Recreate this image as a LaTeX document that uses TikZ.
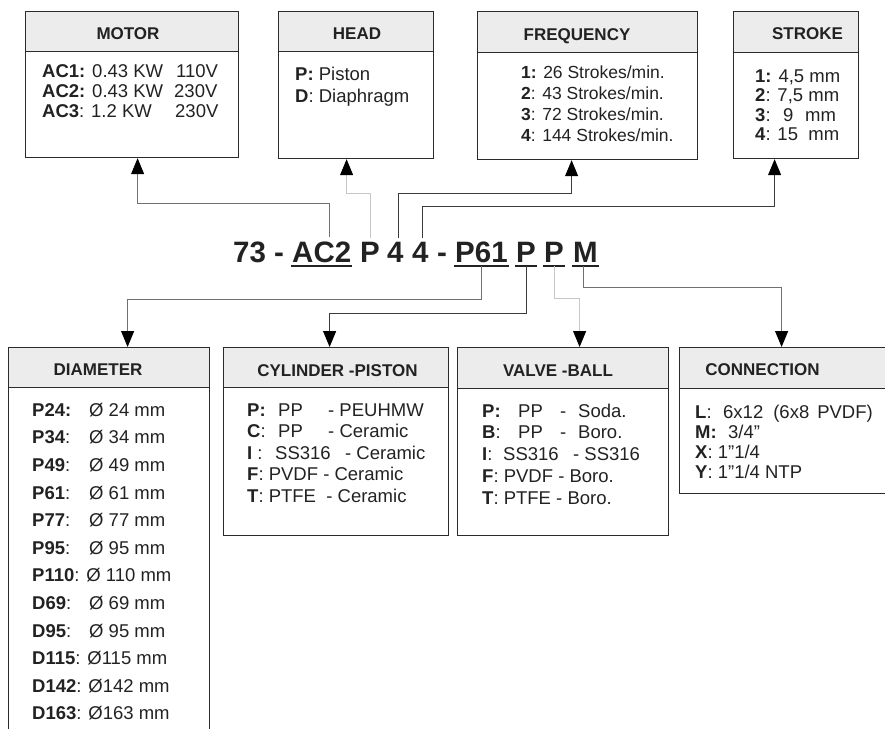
\documentclass[tikz,border=0pt]{standalone}
\usepackage{fontspec}
\setmainfont{Liberation Sans}
\usetikzlibrary{arrows.meta}
\definecolor{bord}{HTML}{2B2B2B}
\definecolor{hfill}{HTML}{ECECEC}
\definecolor{txt}{HTML}{222222}
\definecolor{cdark}{HTML}{3A3A3A}
\definecolor{cmid}{HTML}{707070}
\definecolor{clight}{HTML}{C8C8C8}
\tikzset{
  frame/.style={draw=bord, line width=1.2pt, inner sep=0pt, anchor=north west},
  hdr/.style={frame, fill=hfill},
  hdrtext/.style={font=\fontsize{17}{20}\selectfont\bfseries, text=txt, anchor=base, inner sep=0pt},
  body/.style={text=txt, anchor=north west, inner sep=0pt, align=left},
  code/.style={font=\fontsize{29.5}{34}\selectfont\bfseries, text=txt, anchor=base west, inner sep=0pt},
  uline/.style={draw=txt, line width=1.4pt},
  conn/.style={line width=1pt, -{Triangle[length=16pt,width=13pt,color=black]}},
}
\newcommand{\fr}{\rule{0pt}{14pt}}
\begin{document}
\begin{tikzpicture}[x=1pt,y=-1pt]
\useasboundingbox (0,0) rectangle (885,728);
\clip (0,0) rectangle (885,728);
% ---------- top boxes ----------
\node[hdr, minimum width=213, minimum height=40] (motorH) at (25,11) {};
\node[frame, minimum width=213, minimum height=106] (motorB) at (25,51) {};
\node[hdr, minimum width=155, minimum height=40] (headH) at (278,11) {};
\node[frame, minimum width=155, minimum height=107] (headB) at (278,51) {};
\node[hdr, minimum width=220, minimum height=41] (freqH) at (477,11) {};
\node[frame, minimum width=220, minimum height=107] (freqB) at (477,52) {};
\node[hdr, minimum width=125, minimum height=41] (strokeH) at (733,11) {};
\node[frame, minimum width=125, minimum height=106] (strokeB) at (733,52) {};
% ---------- bottom boxes ----------
\node[hdr, minimum width=201, minimum height=40] (diamH) at (8,347) {};
\node[frame, minimum width=201, minimum height=360] (diamB) at (8,387) {};
\node[hdr, minimum width=225, minimum height=40] (cylH) at (223,347) {};
\node[frame, minimum width=225, minimum height=148] (cylB) at (223,387) {};
\node[hdr, minimum width=211, minimum height=41] (valveH) at (457,347) {};
\node[frame, minimum width=211, minimum height=147] (valveB) at (457,388) {};
\node[hdr, minimum width=215, minimum height=41] (connH) at (679,347) {};
\node[frame, minimum width=215, minimum height=105] (connB) at (679,388) {};
% ---------- header texts ----------
\node[hdrtext] (motorT) at (128,39) {MOTOR};
\node[hdrtext] (headT) at (357,39) {HEAD};
\node[hdrtext] (freqT) at (577,40) {FREQUENCY};
\node[hdrtext] (strokeT) at (807.5,39) {STROKE};
\node[hdrtext] (diamT) at (98,375) {DIAMETER};
\node[hdrtext] (cylT) at (337.5,376) {CYLINDER -PISTON};
\node[hdrtext] (valveT) at (558,376) {VALVE -BALL};
\node[hdrtext] (connT) at (762.5,375) {CONNECTION};
% ---------- body texts ----------
\node[body, font=\fontsize{18.5}{20.3}\selectfont] (motorX) at (42,63) {%
\fr\makebox[134pt][l]{\textbf{AC1:} 0.43 KW}110V\\
\makebox[132pt][l]{\textbf{AC2:} 0.43 KW}230V\\
\makebox[133pt][l]{\textbf{AC3}: 1.2 KW}230V};
\node[body, font=\fontsize{18.5}{22.7}\selectfont] (headX) at (295,66) {%
\fr\textbf{P:} Piston\\
\textbf{D}: Diaphragm};
\node[body, font=\fontsize{17.5}{21}\selectfont] (freqX) at (521,64) {%
\fr\textbf{1:} 26 Strokes/min.\\
\textbf{2}: 43 Strokes/min.\\
\textbf{3}: 72 Strokes/min.\\
\textbf{4}: 144 Strokes/min.};
\node[body, font=\fontsize{18.5}{19.5}\selectfont] (strokeX) at (755,68) {%
\fr\textbf{1:} 4,5 mm\\
\textbf{2}: 7,5 mm\\
\makebox[28pt][l]{\textbf{3}:}\makebox[22pt][l]{9}mm\\
\textbf{4}: 15\ \ mm};
\node[body, font=\fontsize{18.5}{27.6}\selectfont] (diamX) at (32,402) {%
\fr\makebox[57pt][l]{\textbf{P24:}}Ø 24 mm\\
\makebox[57pt][l]{\textbf{P34}:}Ø 34 mm\\
\makebox[57pt][l]{\textbf{P49}:}Ø 49 mm\\
\makebox[57pt][l]{\textbf{P61}:}Ø 61 mm\\
\makebox[57pt][l]{\textbf{P77}:}Ø 77 mm\\
\makebox[57pt][l]{\textbf{P95}:}Ø 95 mm\\
\textbf{P110}: Ø 110 mm\\
\makebox[57pt][l]{\textbf{D69}:}Ø 69 mm\\
\makebox[57pt][l]{\textbf{D95}:}Ø 95 mm\\
\textbf{D115}: Ø115 mm\\
\textbf{D142}: Ø142 mm\\
\textbf{D163}: Ø163 mm};
\node[body, font=\fontsize{18.5}{21.5}\selectfont] (cylX) at (247,402) {%
\fr\makebox[31pt][l]{\textbf{P:}}\makebox[50pt][l]{PP}- PEUHMW\\
\makebox[31pt][l]{\textbf{C}:}\makebox[50pt][l]{PP}- Ceramic\\
\makebox[28pt][l]{\textbf{I} :}\makebox[70pt][l]{SS316}- Ceramic\\
\textbf{F}: PVDF - Ceramic\\
\textbf{T}: PTFE\ \ - Ceramic};
\node[body, font=\fontsize{18.5}{21.7}\selectfont] (valveX) at (482,403) {%
\fr\makebox[36pt][l]{\textbf{P:}}\makebox[42pt][l]{PP}\makebox[18pt][l]{-}Soda.\\
\makebox[36pt][l]{\textbf{B}:}\makebox[42pt][l]{PP}\makebox[18pt][l]{-}Boro.\\
\makebox[21pt][l]{\textbf{I}:}\makebox[70pt][l]{SS316}- SS316\\
\textbf{F}: PVDF - Boro.\\
\textbf{T}: PTFE - Boro.};
\node[body, font=\fontsize{18.5}{20}\selectfont] (connX) at (695,404) {%
\fr\makebox[28pt][l]{\textbf{L}:}6x12\hspace{10pt}(6x8\hspace{8pt}PVDF)\\
\makebox[33pt][l]{\textbf{M:}}3/4"\\
\textbf{X}: 1”1/4\\
\textbf{Y}: 1”1/4 NTP};
% ---------- code ----------
\node[code] (c73) at (233,262) {73 -};
\node[code] (cAC) at (292,262) {AC2};
\node[code] (cP1) at (360,262) {P};
\node[code] (c4a) at (387,262) {4};
\node[code] (c4b) at (412,262) {4};
\node[code] (cdash) at (437,262) {-};
\node[code] (cP61) at (455,262) {P61};
\node[code] (cP2) at (516,262) {P};
\node[code] (cP3) at (544,262) {P};
\node[code] (cM) at (573,262) {M};
\foreach \n in {cAC,cP61,cP2,cP3,cM}
  \draw[uline] ([xshift=-1pt,yshift=-4pt]\n.base west) -- ([xshift=1pt,yshift=-4pt]\n.base east);
% ---------- connectors ----------
\draw[conn, draw=cmid] ([xshift=7.5pt,yshift=4pt]cAC.north) -- ++(0,-34) -| ([xshift=5.5pt]motorB.south);
\draw[conn, draw=clight] ([yshift=4pt]cP1.north) -- ++(0,-44) -| ([xshift=-9.5pt]headB.south);
\draw[conn, draw=cdark] ([xshift=3pt,yshift=4pt]c4a.north) -- ++(0,-44) -| ([xshift=-16pt]freqB.south);
\draw[conn, draw=cdark] ([xshift=2pt,yshift=4pt]c4b.north) -- ++(0,-31) -| ([xshift=-21.5pt]strokeB.south);
\draw[conn, draw=cmid] ([yshift=-4pt]cP61.base) -- ++(0,33) -| ([xshift=18.5pt]diamH.north);
\draw[conn, draw=cdark] ([yshift=-4pt]cP2.base) -- ++(0,47) -| ([xshift=-6.5pt]cylH.north);
\draw[conn, draw=clight] ([yshift=-4pt]cP3.base) -- ++(0,32) -| ([xshift=16.5pt]valveH.north);
\draw[conn, draw=cmid] ([xshift=-1.5pt,yshift=-4pt]cM.base) -- ++(0,21) -| ([xshift=-5.5pt]connH.north);
\end{tikzpicture}
\end{document}
